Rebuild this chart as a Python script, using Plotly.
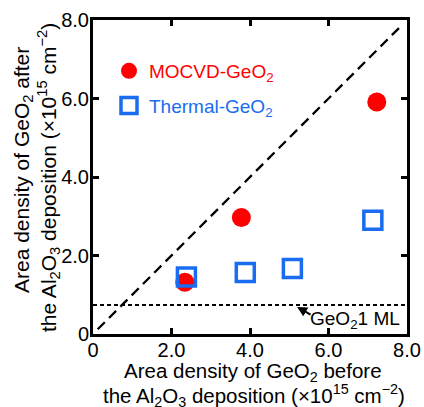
import plotly.graph_objects as go

mocvd_x = [2.34, 3.78, 7.23]
mocvd_y = [1.32, 2.97, 5.91]
thermal_x = [2.38, 3.88, 5.08, 7.13]
thermal_y = [1.45, 1.57, 1.67, 2.90]
ref_line = [0.12, 7.88]
ml_level = 0.74
x_ticks = [0, 2, 4, 6, 8]
x_ticklabels = ["0", "2.0", "4.0", "6.0", "8.0"]

RED = "#ff0000"
BLUE = "#1a6cf0"
font = "Liberation Sans, Arial, sans-serif"
W, H = 424, 407
L, R, T, B = 93, 17, 20, 73
pw, ph = W - L - R, H - T - B


def px_x(p):
    return (p - L) / pw


def px_y(p):
    return (H - B - p) / ph


fig = go.Figure()
fig.add_trace(go.Scatter(x=ref_line, y=ref_line, mode="lines",
                         line=dict(color="black", width=2.3, dash="10px,6px"),
                         showlegend=False, hoverinfo="skip"))
fig.add_trace(go.Scatter(x=[0, 8], y=[ml_level, ml_level], mode="lines",
                         line=dict(color="black", width=2, dash="4px,3px"),
                         showlegend=False, hoverinfo="skip"))
fig.add_trace(go.Scatter(x=mocvd_x, y=mocvd_y, mode="markers",
                         name=f"<span style='color:{RED}'>MOCVD-GeO<sub>2</sub></span>",
                         legendgroup="a",
                         marker=dict(symbol="circle", size=19, color=RED)))
fig.add_trace(go.Scatter(x=thermal_x, y=thermal_y, mode="markers",
                         name=f"<span style='color:{BLUE}'>Thermal-GeO<sub>2</sub></span>",
                         legendgroup="b",
                         marker=dict(symbol="square-open", size=18, color=BLUE,
                                     line=dict(width=3.5, color=BLUE))))

fig.add_annotation(x=5.20, y=0.69, ax=5.58, ay=0.47, axref="x", ayref="y",
                   xref="x", yref="y", showarrow=True, arrowhead=2, arrowsize=1,
                   arrowwidth=2, arrowcolor="black", text="")
fig.add_annotation(x=7.88, y=0.36, xref="x", yref="y", showarrow=False,
                   text="GeO<sub>2</sub>1 ML", xanchor="right", yanchor="middle",
                   font=dict(size=19, color="black", family=font))

title_font = dict(size=21, color="black", family=font)
xtitle_font = dict(size=20.5, color="black", family=font)
fig.add_annotation(x=px_x(253), y=px_y(372), xref="paper", yref="paper",
                   showarrow=False, xanchor="center", yanchor="middle",
                   text="Area density of GeO<sub>2</sub> before", font=xtitle_font)
fig.add_annotation(x=px_x(254), y=px_y(395.5), xref="paper", yref="paper",
                   showarrow=False, xanchor="center", yanchor="middle",
                   text="the Al<sub>2</sub>O<sub>3</sub> deposition (×10<sup>15</sup> cm<sup>−2</sup>)",
                   font=xtitle_font)
fig.add_annotation(x=px_x(23), y=px_y(170), xref="paper", yref="paper",
                   showarrow=False, xanchor="center", yanchor="middle", textangle=-90,
                   text="Area density of GeO<sub>2</sub> after", font=title_font)
fig.add_annotation(x=px_x(48), y=px_y(178), xref="paper", yref="paper",
                   showarrow=False, xanchor="center", yanchor="middle", textangle=-90,
                   text="the Al<sub>2</sub>O<sub>3</sub> deposition (×10<sup>15</sup> cm<sup>−2</sup>)",
                   font=title_font)

axis_common = dict(range=[0, 8], tickvals=x_ticks, ticktext=x_ticklabels,
                   ticks="inside", ticklen=6, tickwidth=2.5, tickcolor="black",
                   showline=True, linewidth=3, linecolor="black", mirror="ticks",
                   showgrid=False, zeroline=False, automargin=False,
                   tickfont=dict(size=20, color="black", family=font))

fig.update_layout(
    width=W, height=H,
    margin=dict(l=L, r=R, t=T, b=B),
    paper_bgcolor="white", plot_bgcolor="white",
    font=dict(family=font, color="black"),
    xaxis=dict(axis_common, ticklabelstandoff=-4),
    yaxis=dict(axis_common, ticklabelstandoff=-3),
    legend=dict(x=px_x(109), y=px_y(52), xanchor="left", yanchor="top",
                bgcolor="rgba(0,0,0,0)", font=dict(size=19, family=font),
                itemsizing="trace", tracegroupgap=7),
    showlegend=True,
)

fig.write_html("out.html", config={"displayModeBar": False},
               post_script="document.body.style.margin='0';document.body.style.overflow='hidden';")
